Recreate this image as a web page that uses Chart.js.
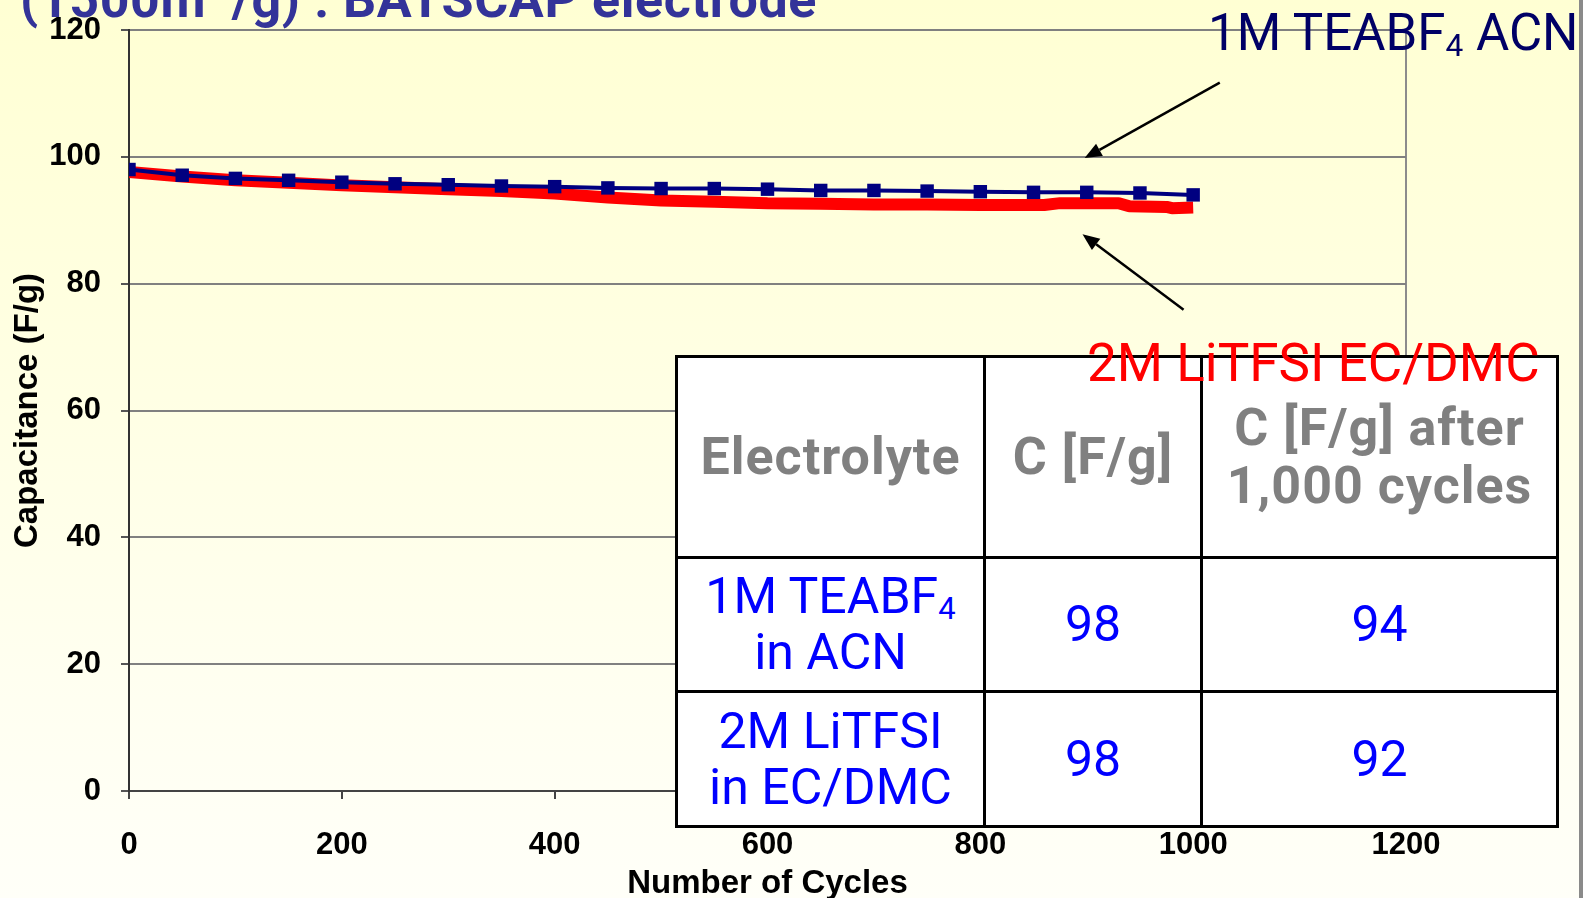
<!DOCTYPE html>
<html>
<head>
<meta charset="utf-8">
<title>Capacitance vs cycles</title>
<script src="https://cdn.jsdelivr.net/npm/chart.js@4.4.0/dist/chart.umd.min.js"></script>
<style>
  html, body { margin: 0; padding: 0; }
  body {
    width: 1583px; height: 898px; overflow: hidden; position: relative;
    background: linear-gradient(to bottom, #ffffd3 0%, #fffff0 75%, #fffff8 100%);
    font-family: Roboto, sans-serif;
  }
  #cap { position: absolute; left: 0; top: 0; }
  .note { position: absolute; white-space: nowrap; line-height: 1; }
  .note sub, td sub { font-size: 0.62em; vertical-align: -0.2em; line-height: 0; }
  #title { left: 20px; top: -37px; font-size: 52px; font-weight: bold; color: #333399; letter-spacing: 0.6px; }
  #lblTea { left: 1208px; top: 7px; font-size: 51px; color: #000066; }
  #lblLi { left: 1087px; top: 337px; font-size: 53px; color: #ff0000; z-index: 3; }
  #edge { position: absolute; left: 1579px; top: 0; width: 4px; height: 898px; background: #8a8a8a; }
  #summary {
    position: absolute; left: 675px; top: 355px; width: 881px; height: 473px;
    border-collapse: collapse; table-layout: fixed; background: #fff; z-index: 2;
  }
  #summary td { border: 3px solid #000; text-align: center; vertical-align: middle; padding: 0; }
  #summary tr.head td { height: 195px; color: #808080; font-weight: bold; font-size: 52px; line-height: 58px; letter-spacing: 1px; }
  #summary tr.body td { height: 130px; color: #0000ff; font-size: 50px; line-height: 56px; }
</style>
</head>
<body>
<canvas id="cap" width="1583" height="898"></canvas>
<div id="title" class="note">(1500m<sup>2</sup>/g) : BATSCAP electrode</div>
<div id="lblTea" class="note">1M TEABF<sub>4</sub> ACN</div>
<div id="lblLi" class="note">2M LiTFSI EC/DMC</div>
<table id="summary">
  <colgroup><col style="width:308px"><col style="width:217px"><col style="width:356px"></colgroup>
  <tr class="head"><td>Electrolyte</td><td>C [F/g]</td><td>C [F/g] after<br>1,000 cycles</td></tr>
</table>
<div id="edge"></div>

<script>
// 1M TEABF4 in ACN, sampled every 50 cycles
const teaCycles = [0, 50, 100, 150, 200, 250, 300, 350, 400, 450, 500,
                   550, 600, 650, 700, 750, 800, 850, 900, 950, 1000];
const teaValues = [98, 97.1, 96.6, 96.3, 96.0, 95.75, 95.6, 95.4, 95.3, 95.1, 95.0,
                   95.0, 94.9, 94.7, 94.7, 94.6, 94.5, 94.4, 94.4, 94.3, 94];

// 2M LiTFSI in EC/DMC
const liCycles = [0, 50, 100, 150, 200, 250, 300, 350, 400, 450, 500, 550, 600,
                  650, 700, 750, 800, 860, 875, 930, 940, 975, 980, 1000];
const liValues = [97.6, 96.9, 96.3, 95.9, 95.5, 95.2, 94.9, 94.6, 94.2, 93.6, 93.1, 92.9, 92.7,
                  92.6, 92.5, 92.5, 92.4, 92.4, 92.7, 92.7, 92.2, 92.1, 91.9, 92];

const xTicks = [0, 200, 400, 600, 800, 1000, 1200];
const yTicks = [0, 20, 40, 60, 80, 100, 120];

// arrows pointing at the two curves, in data units (cycles, F/g)
const arrows = [
  { from: [1025, 111.7], to: [898, 99.8] },
  { from: [991, 75.9], to: [896, 87.8] }
];

// summary table rows: first and last capacitance of each series, rounded
const summary = [
  { name: '1M TEABF<sub>4</sub><br>in ACN', values: teaValues },
  { name: '2M LiTFSI<br>in EC/DMC', values: liValues }
];
const table = document.getElementById('summary');
summary.forEach(r => {
  const tr = document.createElement('tr');
  tr.className = 'body';
  const first = Math.round(r.values[0]);
  const last = Math.round(r.values[r.values.length - 1]);
  tr.innerHTML = '<td>' + r.name + '</td><td>' + first + '</td><td>' + last + '</td>';
  table.appendChild(tr);
});

const arrowPlugin = {
  id: 'arrows',
  afterDatasetsDraw(chart) {
    const { ctx, scales: { x, y } } = chart;
    ctx.save();
    ctx.strokeStyle = '#000';
    ctx.fillStyle = '#000';
    ctx.lineWidth = 2.5;
    arrows.forEach(a => {
      const x0 = x.getPixelForValue(a.from[0]), y0 = y.getPixelForValue(a.from[1]);
      const x1 = x.getPixelForValue(a.to[0]), y1 = y.getPixelForValue(a.to[1]);
      const ang = Math.atan2(y1 - y0, x1 - x0);
      const head = 17, half = 7;
      const bx = x1 - head * Math.cos(ang), by = y1 - head * Math.sin(ang);
      ctx.beginPath();
      ctx.moveTo(x0, y0);
      ctx.lineTo(bx, by);
      ctx.stroke();
      ctx.beginPath();
      ctx.moveTo(x1, y1);
      ctx.lineTo(bx + half * Math.sin(ang), by - half * Math.cos(ang));
      ctx.lineTo(bx - half * Math.sin(ang), by + half * Math.cos(ang));
      ctx.closePath();
      ctx.fill();
    });
    ctx.restore();
  }
};

const axisFont = { family: 'Liberation Sans', size: 31, weight: 'bold' };
const titleFont = { family: 'Liberation Sans', size: 33, weight: 'bold', lineHeight: 0.85 };
const plainNumber = v => String(v);

new Chart(document.getElementById('cap'), {
  type: 'line',
  data: {
    datasets: [
      {
        label: '1M TEABF4 ACN',
        data: teaCycles.map((c, i) => ({ x: c, y: teaValues[i] })),
        borderColor: '#000080',
        backgroundColor: '#000080',
        borderWidth: 4,
        pointStyle: 'rect',
        pointRadius: 9.5,
        pointBorderWidth: 0,
        tension: 0
      },
      {
        label: '2M LiTFSI EC/DMC',
        data: liCycles.map((c, i) => ({ x: c, y: liValues[i] })),
        borderColor: '#ff0000',
        borderWidth: 12,
        borderCapStyle: 'butt',
        borderJoinStyle: 'bevel',
        pointRadius: 0,
        tension: 0
      }
    ]
  },
  options: {
    responsive: false,
    animation: false,
    layout: { padding: { top: 30, right: 177, left: 0, bottom: 0 } },
    plugins: { legend: { display: false }, tooltip: { enabled: false } },
    scales: {
      x: {
        type: 'linear',
        min: 0,
        max: 1200,
        afterBuildTicks: s => { s.ticks = xTicks.map(v => ({ value: v })); },
        afterFit: s => { s.height = 107; },
        ticks: { font: axisFont, color: '#000', padding: 28, maxRotation: 0, autoSkip: false, callback: plainNumber },
        grid: {
          color: c => (c.tick && c.tick.value === 1200 ? '#8c8c8c' : 'rgba(0,0,0,0)'),
          lineWidth: 2,
          tickColor: '#444',
          tickLength: 8
        },
        border: { color: '#444', width: 2 },
        title: { display: true, text: 'Number of Cycles', font: titleFont, color: '#000', padding: { top: 0, bottom: 0 } }
      },
      y: {
        min: 0,
        max: 120,
        afterBuildTicks: s => { s.ticks = yTicks.map(v => ({ value: v })); },
        // fixed axis width; label overhang is already covered by the layout padding
        afterFit: s => { s.width = 129; s.paddingTop = 0; s.paddingBottom = 0; },
        ticks: { font: axisFont, color: '#000', padding: 20, callback: plainNumber },
        grid: { color: '#808080', lineWidth: 2, tickColor: '#555', tickLength: 8 },
        border: { color: '#333', width: 2 },
        title: { display: true, text: 'Capacitance (F/g)', font: titleFont, color: '#000', padding: { top: 14, bottom: 0 } }
      }
    }
  },
  plugins: [arrowPlugin]
});
</script>
</body>
</html>
